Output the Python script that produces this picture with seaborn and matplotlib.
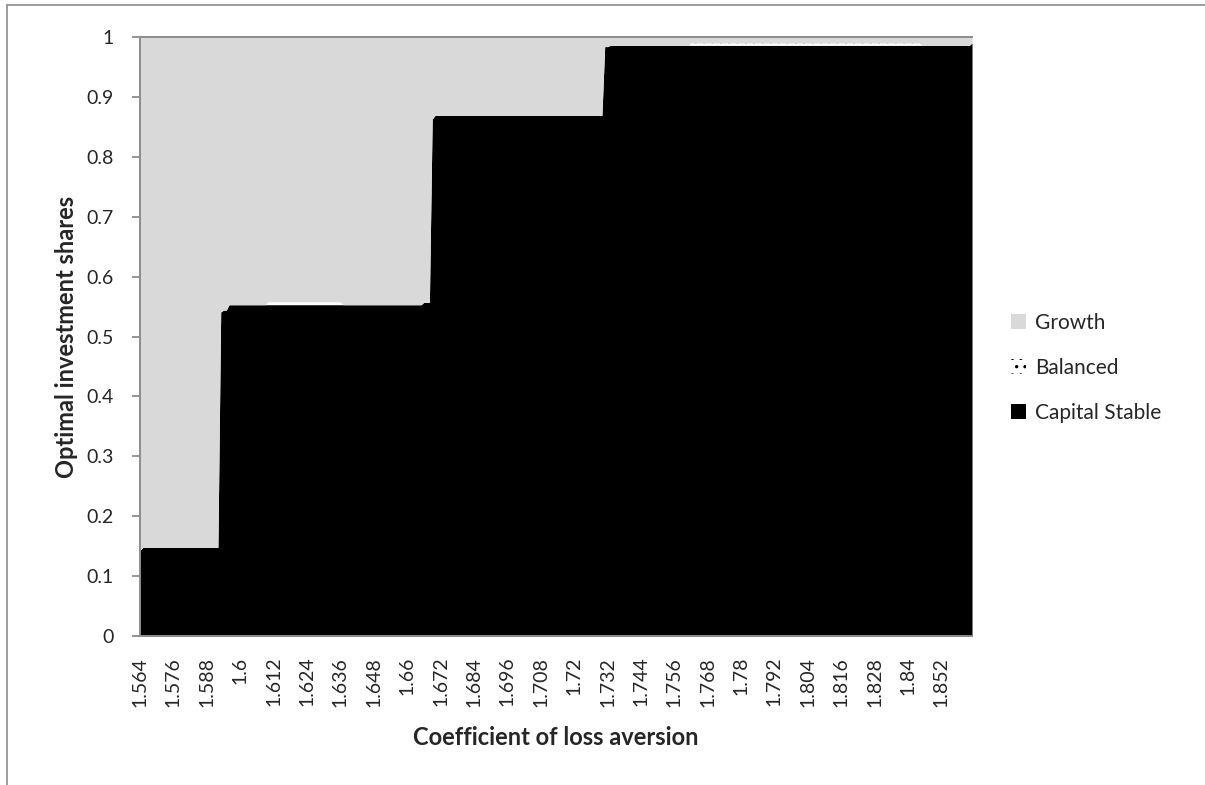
import numpy as np
import seaborn as sns
import matplotlib.pyplot as plt
from matplotlib.patches import Patch
from matplotlib.lines import Line2D

# Coefficient of loss aversion: categories 1.564 .. 1.863, step 0.001
loss_aversion = np.round(np.arange(1564, 1864) / 1000, 3)

# Capital Stable share, read as a step function (start of each run, share)
cap_run_start = [1.564, 1.565, 1.593, 1.594, 1.596, 1.666, 1.669, 1.670, 1.731, 1.733, 1.863]
cap_run_share = [0.143, 0.148, 0.541, 0.544, 0.553, 0.557, 0.863, 0.869, 0.984, 0.986, 0.990]

# Balanced share (thin dotted band)
bal_run_start = [1.564, 1.610, 1.637, 1.762, 1.845]
bal_run_share = [0.000, 0.005, 0.000, 0.004, 0.000]

series_names = ['Capital Stable', 'Balanced', 'Growth']
GREY = '#d9d9d9'
AXIS_GREY = '#8c8c8c'


def expand_runs(starts, shares, x):
    # pick the share of the last run that started at or before x
    idx = np.searchsorted(np.array(starts), x + 1e-9, side='right') - 1
    return np.array(shares)[idx]


capital_stable = expand_runs(cap_run_start, cap_run_share, loss_aversion)
balanced = expand_runs(bal_run_start, bal_run_share, loss_aversion)
growth = 1 - capital_stable - balanced

sns.set_theme(style='white')
plt.rcParams['font.family'] = ['Lato', 'DejaVu Sans']
plt.rcParams['hatch.linewidth'] = 1.2
plt.rcParams['hatch.color'] = 'black'

fig = plt.figure(figsize=(12.05, 7.85), dpi=100)
ax = fig.add_axes([140 / 1205, 1 - 636 / 785, 832 / 1205, 599 / 785])

polys = ax.stackplot(loss_aversion, capital_stable, balanced, growth,
                     colors=['black', 'white', GREY], linewidth=0)
polys[1].set_hatch('..')
polys[1].set_edgecolor('black')

ax.set_xlim(loss_aversion[0], loss_aversion[-1])
ax.set_ylim(0, 1)

tick_vals = loss_aversion[::12][:25]
ax.set_xticks(tick_vals)
ax.set_xticklabels([f'{v:g}' for v in tick_vals], rotation=90, fontsize=14)
y_vals = np.round(np.arange(0, 11) / 10, 1)
ax.set_yticks(y_vals)
ax.set_yticklabels([f'{v:g}' for v in y_vals], fontsize=14)

ax.tick_params(axis='x', length=0, pad=15)
ax.tick_params(axis='y', left=True, length=6, width=1.3, color=AXIS_GREY, pad=13)

for side in ['left', 'bottom', 'top']:
    ax.spines[side].set_color(AXIS_GREY)
    ax.spines[side].set_linewidth(1.4)
ax.spines['right'].set_visible(False)

ax.set_xlabel('Coefficient of loss aversion', fontsize=17, fontweight='bold', labelpad=14)
ax.set_ylabel('Optimal investment shares', fontsize=17, fontweight='bold', labelpad=6)

handles = [
    Patch(facecolor=GREY, edgecolor='none', label='Growth'),
    Patch(facecolor='white', edgecolor='black', hatch='..', linewidth=0, label='Balanced'),
    Patch(facecolor='black', edgecolor='none', label='Capital Stable'),
]
fig.legend(handles=handles, loc='center left', bbox_to_anchor=(992 / 1205, 1 - 368 / 785),
           frameon=False, fontsize=15, handlelength=0.75, handleheight=0.75,
           handletextpad=0.4, labelspacing=1.2)

# chart area border
fig.add_artist(Line2D([7 / 1205, 7 / 1205], [0, 1 - 5 / 785], transform=fig.transFigure,
                      color=AXIS_GREY, linewidth=1.2))
fig.add_artist(Line2D([7 / 1205, 1], [1 - 5 / 785, 1 - 5 / 785], transform=fig.transFigure,
                      color=AXIS_GREY, linewidth=1.2))

fig.savefig('out.png', dpi=100)
